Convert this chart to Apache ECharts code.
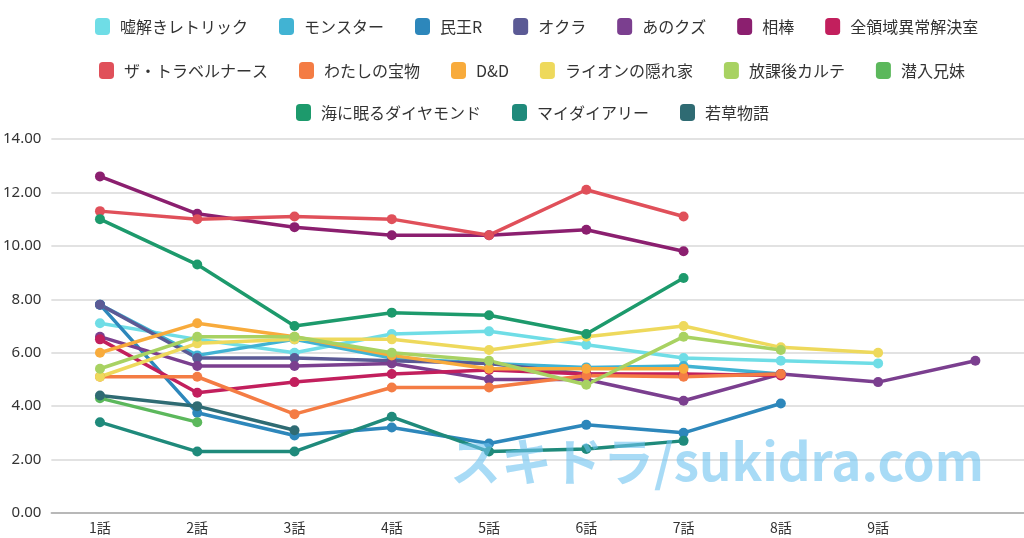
<!DOCTYPE html>
<html><head><meta charset="utf-8">
<script src="https://cdn.jsdelivr.net/npm/echarts@6/dist/echarts.min.js"></script>
<style>html,body{margin:0;padding:0;background:#fff}#c{width:1024px;height:538px}</style>
</head><body><div id="c"></div>
<script>
const categories = ['1話','2話','3話','4話','5話','6話','7話','8話','9話',''];
const yTicks = [0,2,4,6,8,10,12,14];

const usotoki   = [7.1, 6.5, 6.0, 6.7, 6.8, 6.3, 5.8, 5.7, 5.6, null];
const monster   = [7.8, 5.9, 6.5, 5.8, 5.6, 5.45, 5.5, 5.2, null, null];
const tamiou    = [7.8, 3.75, 2.9, 3.2, 2.6, 3.3, 3.0, 4.1, null, null];
const okura     = [7.8, 5.8, 5.8, 5.7, 5.6, 5.2, 5.15, 5.2, null, null];
const anokuzu   = [6.6, 5.5, 5.5, 5.6, 5.0, 5.0, 4.2, 5.2, 4.9, 5.7];
const aibou     = [12.6, 11.2, 10.7, 10.4, 10.4, 10.6, 9.8, null, null, null];
const zenryouiki= [6.5, 4.5, 4.9, 5.2, 5.35, 5.2, 5.2, 5.15, null, null];
const travel    = [11.3, 11.0, 11.1, 11.0, 10.4, 12.1, 11.1, null, null, null];
const takaramono= [5.1, 5.1, 3.7, 4.7, 4.7, 5.15, 5.1, 5.2, null, null];
const dandd     = [6.0, 7.1, 6.6, 5.9, 5.4, 5.4, 5.4, null, null, null];
const lion      = [5.1, 6.35, 6.5, 6.5, 6.1, 6.6, 7.0, 6.2, 6.0, null];
const houkago   = [5.4, 6.6, 6.6, 6.0, 5.7, 4.8, 6.6, 6.1, null, null];
const sennyu    = [4.3, 3.4, null, null, null, null, null, null, null, null];
const umi       = [11.0, 9.3, 7.0, 7.5, 7.4, 6.7, 8.8, null, null, null];
const mydiary   = [3.4, 2.3, 2.3, 3.6, 2.3, 2.4, 2.7, null, null, null];
const wakakusa  = [4.4, 4.0, 3.1, null, null, null, null, null, null, null];

const seriesNames = ['嘘解きレトリック','モンスター','民王R','オクラ','あのクズ','相棒','全領域異常解決室',
  'ザ・トラベルナース','わたしの宝物','D&D','ライオンの隠れ家','放課後カルテ','潜入兄妹',
  '海に眠るダイヤモンド','マイダイアリー','若草物語'];
const seriesData = [usotoki, monster, tamiou, okura, anokuzu, aibou, zenryouiki, travel, takaramono,
  dandd, lion, houkago, sennyu, umi, mydiary, wakakusa];
const colors = ['#6fdde6','#41b3d3','#2d87bb','#5b5a95','#7b3f8f','#8b1f6f','#c21f5d',
  '#e0505a','#f47c44','#f8ab3c','#eed95c','#a8d262','#5cb85c','#1d9a6c','#1f8a7b','#2f6b73'];

const legendRows = [seriesNames.slice(0,7), seriesNames.slice(7,13), seriesNames.slice(13)];
const legendTops = [13, 57, 99];
const legendLefts = [90, 94, 291];

const chart = echarts.init(document.getElementById('c'));
chart.setOption({
  animation: false,
  color: colors,
  legend: legendRows.map((row, i) => ({
    data: row,
    top: legendTops[i],
    left: legendLefts[i],
    icon: 'roundRect',
    itemWidth: 15,
    itemHeight: 17,
    itemGap: 31,
    textStyle: { fontSize: 16, color: '#333', fontFamily: 'Noto Sans CJK JP', padding: [0, 0, 0, 5] }
  })),
  grid: { left: 50, right: 0, top: 139, bottom: 25, containLabel: false },
  xAxis: {
    type: 'category',
    data: categories,
    boundaryGap: true,
    axisLine: { lineStyle: { color: '#aaa', width: 1.5 } },
    axisTick: { show: false },
    axisLabel: { fontSize: 14, color: '#333', margin: 8, fontFamily: 'Noto Sans CJK JP' }
  },
  yAxis: {
    type: 'value',
    min: yTicks[0], max: yTicks[yTicks.length-1], interval: 2,
    axisLine: { show: false },
    axisTick: { show: false },
    splitLine: { lineStyle: { color: '#d8d8d8', width: 1.5 } },
    axisLabel: { fontSize: 15, color: '#333', margin: 10, fontFamily: 'Noto Sans',
      formatter: v => v.toFixed(2) }
  },
  series: seriesNames.map((n, i) => ({
    name: n,
    type: 'line',
    data: seriesData[i],
    symbol: 'circle',
    symbolSize: 10,
    lineStyle: { width: 3.5 },
    emphasis: { disabled: true }
  })),
  graphic: [{
    type: 'text',
    left: 450, top: 436,
    z: 100,
    style: {
      text: 'スキドラ/sukidra.com',
      font: 'bold 51px "Noto Sans CJK JP"',
      fill: 'rgba(110,195,240,0.6)'
    }
  }]
});
</script></body></html>
